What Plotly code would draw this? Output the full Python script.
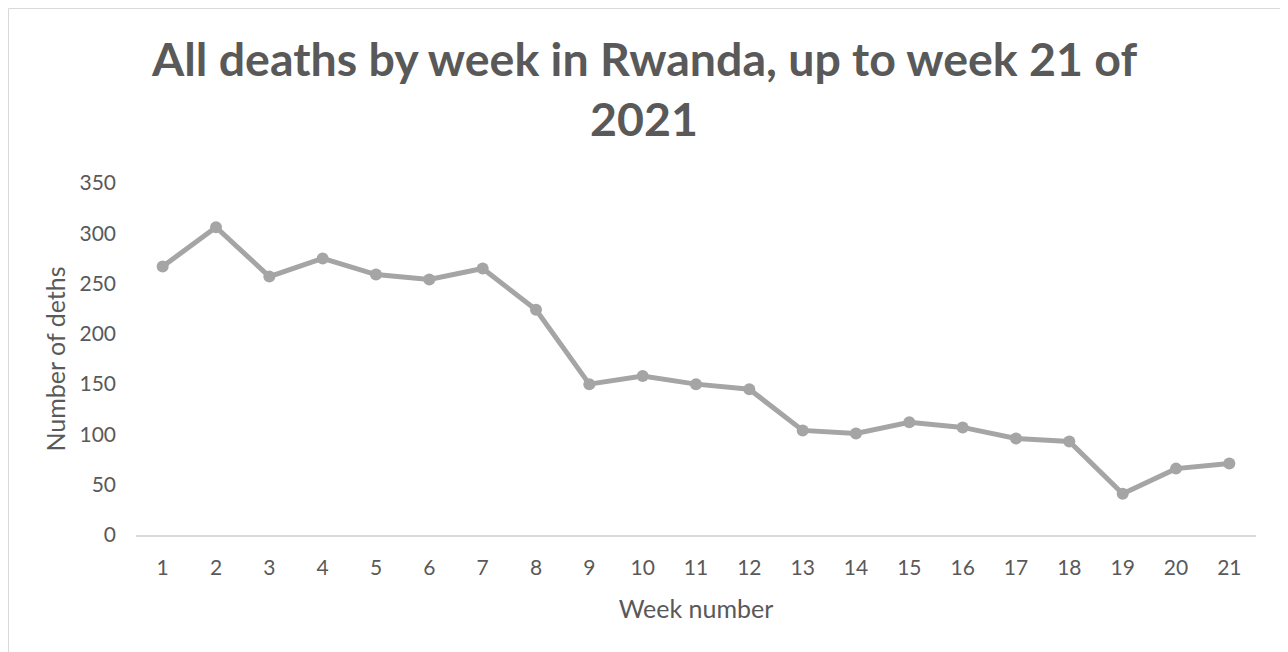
import plotly.graph_objects as go

weeks = [str(i) for i in range(1, 22)]
deaths = [267, 306, 257, 275, 259, 254, 265, 224, 150, 158, 150, 145,
          104, 101, 112, 107, 96, 93, 41, 66, 71]

title_line1 = "All deaths by week in Rwanda, up to week 21 of"
title_line2 = "2021"
x_title = "Week number"
y_title = "Number of deths"

FONT = "Lato"
TXT = "#595959"

W, H = 1280, 644
ML, MR, MT, MB = 128, 32, 175, 117
PW, PH = W - ML - MR, H - MT - MB


def px(xp):
    return (xp - ML) / PW


def py(yp):
    return (H - MB - yp) / PH


fig = go.Figure()
fig.add_trace(go.Scatter(
    x=weeks, y=deaths, mode="lines+markers",
    line=dict(color="#a5a5a5", width=5),
    marker=dict(color="#a5a5a5", size=12),
    cliponaxis=False, showlegend=False,
))

title_font = dict(family=FONT, size=46.5, color=TXT, weight="bold")
fig.add_annotation(text=title_line1, xref="paper", yref="paper", x=px(636), y=py(50),
                   xanchor="center", yanchor="middle", showarrow=False, font=title_font)
fig.add_annotation(text=title_line2, xref="paper", yref="paper", x=px(636), y=py(110),
                   xanchor="center", yanchor="middle", showarrow=False, font=title_font)

fig.update_layout(
    width=W, height=H,
    margin=dict(l=ML, r=MR, t=MT, b=MB),
    paper_bgcolor="white",
    plot_bgcolor="white",
    xaxis=dict(type="category", range=[-0.5, len(weeks) - 0.5],
               showgrid=False, showline=True, linecolor="#d9d9d9",
               linewidth=2, ticks="", ticklabelstandoff=13,
               tickfont=dict(family=FONT, size=21, color=TXT),
               title=dict(text=x_title, font=dict(family=FONT, size=25, color=TXT), standoff=22),
               zeroline=False),
    yaxis=dict(range=[0, 350], dtick=50, showgrid=False, zeroline=False, showline=False,
               ticks="", ticklabelstandoff=19,
               tickfont=dict(family=FONT, size=21, color=TXT),
               title=dict(text=y_title, font=dict(family=FONT, size=25, color=TXT), standoff=6)),
    shapes=[dict(type="rect", xref="paper", yref="paper",
                 x0=px(0.5), x1=px(W + 5), y0=py(H + 5), y1=py(0.5),
                 fillcolor="rgba(0,0,0,0)", line=dict(color="#d9d9d9", width=1), layer="below")],
)

fig.write_html("out.html")
